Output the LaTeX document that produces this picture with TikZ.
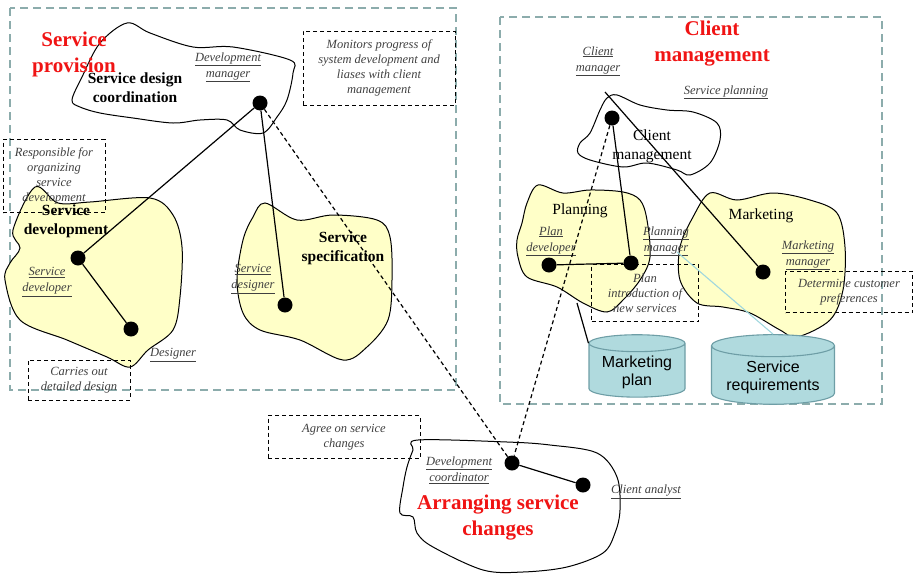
\documentclass[tikz,border=0pt]{standalone}
\usepackage{fontspec}
\setmainfont{Liberation Serif}
\setsansfont{Liberation Sans}
\usepackage{tikz}
\usetikzlibrary{shapes.geometric}
\definecolor{arealine}{RGB}{140,172,172}
\definecolor{blobfill}{RGB}{255,255,200}
\definecolor{dbfill}{RGB}{176,218,222}
\definecolor{dbline}{RGB}{110,158,166}
\definecolor{linkblue}{RGB}{160,215,222}
\definecolor{titlered}{RGB}{240,20,20}

\begin{document}
\begin{tikzpicture}[x=1pt, y=-1pt,
    area/.style={draw=arealine, line width=1.8pt, dash pattern=on 8pt off 5pt},
    blob/.style={draw, line width=1pt, fill=white},
    yblob/.style={draw, line width=1pt, fill=blobfill},
    note/.style={draw, line width=1pt, dash pattern=on 4pt off 3pt, align=center, font=\fontsize{12.5}{15}\selectfont\itshape, text=black!75, inner sep=0pt},
    role/.style={align=center, font=\fontsize{12.5}{16}\selectfont\itshape, text=black!75},
    unit/.style={align=center, font=\fontsize{15.5}{19}\selectfont\bfseries},
    plainunit/.style={align=center, font=\fontsize{15.5}{19}\selectfont},
    title/.style={align=center, font=\fontsize{21}{26}\selectfont\bfseries, text=titlered},
    dot/.style={circle, fill=black, inner sep=0pt, minimum size=15pt},
    db/.style={cylinder, shape border rotate=90, shape aspect=0.22, draw=dbline, line width=1.1pt, fill=dbfill,
      align=center, font=\sffamily\fontsize{16}{18}\selectfont},
    link/.style={draw, line width=1.2pt},
    dlink/.style={draw, line width=1.2pt, dash pattern=on 4pt off 3pt}]
    \useasboundingbox (0,0) rectangle (913,573);

    \draw[area] (10,8) rectangle (456,390);
    \draw[area] (500,17) rectangle (882,404);

    \draw[blob] plot[smooth cycle, tension=0.55] coordinates {(72,100) (82,77) (100,43) (127,23) (150,33) (193,47) (233,47) (290,60) (293,73) (287,100) (277,117) (263,133) (240,130) (227,120) (200,120) (173,123) (133,118) (100,113) (80,107)};
    \draw[yblob] plot[smooth cycle, tension=0.55] coordinates {(35,187) (58,203) (90,202) (150,198) (173,215) (182,247) (180,297) (173,330) (148,350) (130,367) (107,357) (67,340) (20,320) (5,280) (10,263) (20,248) (13,230)};
    \draw[yblob] plot[smooth cycle, tension=0.55] coordinates {(265,203) (297,220) (333,215) (377,220) (390,237) (392,280) (388,320) (367,347) (343,360) (300,340) (260,330) (243,313) (237,280) (243,240) (253,217)};
    \draw[blob] plot[smooth cycle, tension=0.55] coordinates {(607,98) (617,95) (640,105) (667,110) (693,112) (717,123) (720,140) (710,163) (690,175) (677,170) (647,163) (623,167) (590,160) (578,153) (580,143) (590,133) (600,110)};
    \draw[yblob] plot[smooth cycle, tension=0.55] coordinates {(538,185) (563,193) (590,190) (623,192) (640,200) (647,220) (650,257) (640,280) (623,300) (607,312) (583,303) (557,287) (527,277) (518,257) (517,240) (522,223) (527,203)};
    \draw[yblob] plot[smooth cycle, tension=0.55] coordinates {(710,193) (737,200) (773,193) (810,200) (837,213) (845,247) (843,290) (830,320) (797,337) (780,330) (750,313) (723,307) (697,303) (680,280) (680,247) (693,217)};
    \draw[blob] plot[smooth cycle, tension=0.55] coordinates {(418,440) (507,442) (550,445) (597,453) (617,477) (620,510) (615,533) (603,553) (567,567) (523,572) (483,570) (433,547) (417,533) (413,517) (400,513) (403,487) (407,467) (413,450)};

    \node[title] (provision) at (74,54) {Service\\provision};
    \node[title] (clientmgmt) at (712,44) {Client\\management};
    \node[title] (arranging) at (498,518) {Arranging service\\changes};

    \node[unit] (sdc) at (135,88) {Service design\\coordination};
    \node[unit] (sdev) at (66,221) {Service\\development};
    \node[unit] (sspec) at (343,248) {Service\\specification};
    \node[plainunit] (cmunit) at (652,146) {Client\\management};
    \node[plainunit] (planning) at (580,211) {Planning};
    \node[plainunit] (marketing) at (761,216) {Marketing};

    \node[role] at (228,67) {\underline{Development}\\\underline{manager}};
    \node[role] at (47,282) {\underline{Service}\\\underline{developer}};
    \node[role] at (173,355) {\underline{Designer}};
    \node[role] at (253,279) {\underline{Service}\\\underline{designer}};
    \node[role] at (598,61) {\underline{Client}\\\underline{manager}};
    \node[role] at (726,92) {\underline{Service planning}};
    \node[role] at (551,241) {\underline{Plan}\\\underline{developer}};
    \node[role] at (666,241) {\underline{Planning}\\\underline{manager}};
    \node[role] at (808,255) {\underline{Marketing}\\\underline{manager}};
    \node[role] at (459,470) {\underline{Development}\\\underline{coordinator}};
    \node[role] at (646,492) {\underline{Client analyst}};

    \node[note, minimum width=152pt, minimum height=74pt] (monitors) at (379,68) {Monitors progress of\\system development and\\liases with client\\management};
    \node[note, minimum width=102pt, minimum height=73pt] (responsible) at (54,176) {Responsible for\\organizing\\service\\development};
    \node[note, minimum width=102pt, minimum height=40pt] (carries) at (79,380) {Carries out\\detailed design};
    \node[note, minimum width=107pt, minimum height=57pt] (planintro) at (645,293) {Plan\\introduction of\\new services};
    \node[note, minimum width=127pt, minimum height=41pt] (determine) at (849,292) {Determine customer\\preferences};
    \node[note, minimum width=152pt, minimum height=43pt] (agree) at (344,437) {Agree on service\\changes};

    \node[db, minimum width=96pt, minimum height=54pt] (mplan) at (637,372) {Marketing\\plan};
    \node[db, minimum width=123pt, minimum height=54pt] (sreq) at (773,377) {Service\\requirements};

    \node[dot] (devman) at (260,103) {};
    \node[dot] (sdeveloper) at (78,258) {};
    \node[dot] (designer) at (131,329) {};
    \node[dot] (sdesigner) at (285,305) {};
    \node[dot] (clientman) at (612,118) {};
    \node[dot] (plandev) at (549,265) {};
    \node[dot] (planman) at (631,263) {};
    \node[dot] (marketman) at (763,272) {};
    \node[dot] (devcoord) at (512,463) {};
    \node[dot] (analyst) at (583,485) {};
    \coordinate (cmtop) at (605,92);
    \coordinate (planfoot) at (577,303);
    \coordinate (planmanlabel) at (677,252);

    \draw[link] (devman) -- (sdeveloper);
    \draw[link] (devman) -- (sdesigner);
    \draw[link] (sdeveloper) -- (designer);
    \draw[link] (plandev) -- (planman);
    \draw[link] (planman) -- (clientman);
    \draw[link] (marketman) -- (cmtop);
    \draw[link] (devcoord) -- (analyst);
    \draw[link] (planfoot) -- (mplan.before top);
    \draw[linkblue, line width=1.1pt] (planmanlabel) -- (sreq.top);
    \draw[dlink] (devman) -- (devcoord);
    \draw[dlink] (clientman) -- (devcoord);
\end{tikzpicture}
\end{document}
